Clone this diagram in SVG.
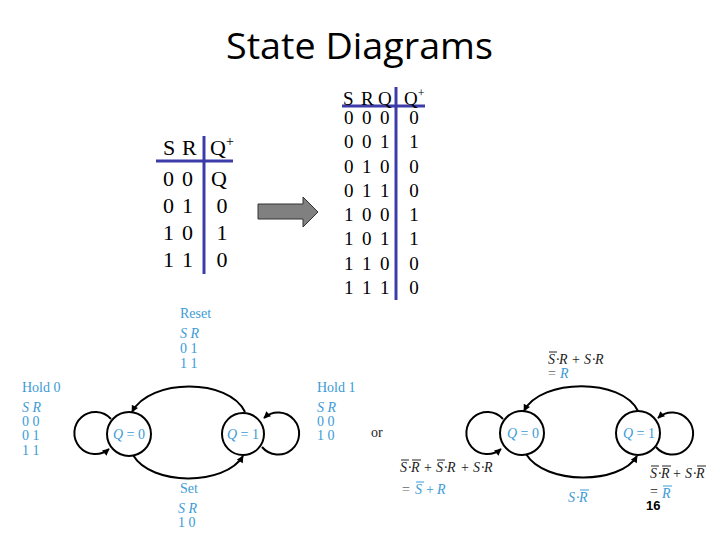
<svg xmlns="http://www.w3.org/2000/svg" width="720" height="540" viewBox="0 0 720 540">
<style>
.title{font-family:"Open Sans","Liberation Sans",sans-serif;font-size:36px;fill:#000}
.tb{font-family:"Liberation Serif",serif;fill:#000}
.t1{font-size:22px}
.t2{font-size:19px}
.rule{stroke:#3c3ca8;stroke-width:3}
.lb{font-family:"Liberation Serif",serif;font-size:14px;fill:#3d9bd6}
.bk{font-family:"Liberation Serif",serif;font-size:14px;fill:#222}
.it{font-style:italic}
.gy{fill:#666}
.st{fill:none;stroke:#000;stroke-width:2}
.bar{stroke:#222;stroke-width:1}
.barb{stroke:#3d9bd6;stroke-width:1}
</style>
<defs>
<marker id="ah" viewBox="0 0 10 10" refX="9" refY="5" markerWidth="8" markerHeight="7" markerUnits="userSpaceOnUse" orient="auto">
<path d="M0,0 L10,5 L0,10 z" fill="#000"/>
</marker>
</defs>
<rect width="720" height="540" fill="#fff"/>
<text id="title" class="title" x="226" y="59" textLength="267" lengthAdjust="spacingAndGlyphs">State Diagrams</text>

<g id="table1" class="tb t1">
<line class="rule" x1="156" y1="161" x2="233" y2="161"/>
<line class="rule" x1="204" y1="136" x2="204" y2="274"/>
<text x="163" y="155">S</text><text x="182" y="155">R</text>
<text x="210" y="155">Q<tspan font-size="14" dy="-9">+</tspan></text>
<text x="163" y="186">0</text><text x="182" y="186">0</text><text x="219" y="186" text-anchor="middle">Q</text>
<text x="163" y="213">0</text><text x="182" y="213">1</text><text x="222" y="213" text-anchor="middle">0</text>
<text x="163" y="240">1</text><text x="182" y="240">0</text><text x="222" y="240" text-anchor="middle">1</text>
<text x="163" y="267">1</text><text x="182" y="267">1</text><text x="222" y="267" text-anchor="middle">0</text>
</g>

<g id="arrow">
<polygon points="258,204 303,204 303,197 318,212 303,227 303,219 258,219" fill="#808080" stroke="#333" stroke-width="1"/>
</g>

<g id="table2" class="tb t2">
<line class="rule" x1="342" y1="106" x2="425" y2="106"/>
<line class="rule" x1="396" y1="87" x2="396" y2="300"/>
<text x="343" y="105">S</text><text x="361" y="105">R</text><text x="378" y="105">Q</text>
<text x="404" y="105">Q<tspan font-size="12" dy="-8">+</tspan></text>
<g text-anchor="start">
<text x="344" y="124">0</text><text x="362" y="124">0</text><text x="380" y="124">0</text>
<text x="344" y="148">0</text><text x="362" y="148">0</text><text x="380" y="148">1</text>
<text x="344" y="173">0</text><text x="362" y="173">1</text><text x="380" y="173">0</text>
<text x="344" y="197">0</text><text x="362" y="197">1</text><text x="380" y="197">1</text>
<text x="344" y="221">1</text><text x="362" y="221">0</text><text x="380" y="221">0</text>
<text x="344" y="245">1</text><text x="362" y="245">0</text><text x="380" y="245">1</text>
<text x="344" y="270">1</text><text x="362" y="270">1</text><text x="380" y="270">0</text>
<text x="344" y="294">1</text><text x="362" y="294">1</text><text x="380" y="294">1</text>
</g>
<g text-anchor="middle">
<text x="414" y="124">0</text><text x="414" y="148">1</text><text x="414" y="173">0</text><text x="414" y="197">0</text>
<text x="414" y="221">1</text><text x="414" y="245">1</text><text x="414" y="270">0</text><text x="414" y="294">0</text>
</g>
</g>

<g id="connectors">
<path class="st" d="M111,419 A21,21 0 1 0 109,449" marker-end="url(#ah)"/>
<path class="st" d="M262,447 A21,21 0 1 0 264,418" marker-end="url(#ah)"/>
<path class="st" d="M245,412 C229,378 150,378 132,412" marker-end="url(#ah)"/>
<path class="st" d="M133,455 C151,486 225,486 243,456" marker-end="url(#ah)"/>
<path class="st" d="M503,419 A21,21 0 1 0 501,449" marker-end="url(#ah)"/>
<path class="st" d="M656,447 A21,21 0 1 0 658,418" marker-end="url(#ah)"/>
<path class="st" d="M638,411 C622,378 541,378 524,411" marker-end="url(#ah)"/>
<path class="st" d="M526,454 C545,485 620,485 637,456" marker-end="url(#ah)"/>
</g>

<g id="L_q0"><circle class="st" cx="129" cy="434" r="22" fill="#fff"/><text class="lb" x="129" y="439" text-anchor="middle"><tspan class="it">Q</tspan> = 0</text></g>
<g id="L_q1"><circle class="st" cx="243" cy="434" r="21" fill="#fff"/><text class="lb" x="243" y="439" text-anchor="middle"><tspan class="it">Q</tspan> = 1</text></g>

<g id="L_labels" class="lb">
<text x="180" y="318">Reset</text>
<text x="180" y="338" class="it">S R</text>
<text x="180" y="353">0 1</text>
<text x="180" y="368">1 1</text>
<text x="22" y="392">Hold 0</text>
<text x="22" y="412" class="it">S R</text>
<text x="22" y="426">0 0</text>
<text x="22" y="440">0 1</text>
<text x="22" y="455">1 1</text>
<text x="317" y="392">Hold 1</text>
<text x="317" y="412" class="it">S R</text>
<text x="317" y="426">0 0</text>
<text x="317" y="440">1 0</text>
<text x="180" y="493">Set</text>
<text x="178" y="513" class="it">S R</text>
<text x="178" y="527">1 0</text>
</g>

<text class="bk" x="371" y="437" fill="#333">or</text>

<g id="R_q0"><circle class="st" cx="522" cy="433" r="22" fill="#fff"/><text class="lb" x="523" y="438" text-anchor="middle"><tspan class="it">Q</tspan> = 0</text></g>
<g id="R_q1"><circle class="st" cx="638" cy="433" r="22" fill="#fff"/><text class="lb" x="639" y="438" text-anchor="middle"><tspan class="it">Q</tspan> = 1</text></g>

<g id="R_labels">
<text class="bk" y="364"><tspan class="it" x="548">S</tspan><tspan x="555.5">·</tspan><tspan class="it" x="559">R</tspan><tspan x="572">+</tspan><tspan class="it" x="584">S</tspan><tspan x="591.5">·</tspan><tspan class="it" x="595">R</tspan></text>
<line class="bar" x1="549" y1="352" x2="557" y2="352"/>
<text class="bk gy" x="548" y="378">=</text><text class="lb it" x="560" y="378">R</text>

<text class="bk" y="472"><tspan class="it" x="400">S</tspan><tspan x="407.5">·</tspan><tspan class="it" x="411">R</tspan><tspan x="424">+</tspan><tspan class="it" x="436">S</tspan><tspan x="443.5">·</tspan><tspan class="it" x="447">R</tspan><tspan x="461">+</tspan><tspan class="it" x="473">S</tspan><tspan x="480.5">·</tspan><tspan class="it" x="484">R</tspan></text>
<line class="bar" x1="401" y1="460" x2="409" y2="460"/>
<line class="bar" x1="412" y1="460" x2="421" y2="460"/>
<line class="bar" x1="437" y1="460" x2="445" y2="460"/>
<text class="bk gy" x="402" y="494">=</text>
<text class="lb" y="494"><tspan class="it" x="415">S</tspan><tspan x="426">+</tspan><tspan class="it" x="437">R</tspan></text>
<line class="barb" x1="416" y1="482" x2="424" y2="482"/>

<text class="lb" y="502"><tspan class="it" x="568">S</tspan><tspan x="575.5">·</tspan><tspan class="it" x="579">R</tspan></text>
<line class="barb" x1="580" y1="490" x2="589" y2="490"/>

<text class="bk" y="478"><tspan class="it" x="650">S</tspan><tspan x="657.5">·</tspan><tspan class="it" x="661">R</tspan><tspan x="673">+</tspan><tspan class="it" x="685">S</tspan><tspan x="692.5">·</tspan><tspan class="it" x="696">R</tspan></text>
<line class="bar" x1="651" y1="466" x2="659" y2="466"/>
<line class="bar" x1="662" y1="466" x2="671" y2="466"/>
<line class="bar" x1="697" y1="466" x2="706" y2="466"/>
<text class="bk" x="650" y="496">=</text>
<text class="lb it" x="662" y="498">R</text>
<line class="barb" x1="663" y1="486" x2="672" y2="486"/>
</g>

<text id="pagenum" x="646" y="510" font-family="Liberation Sans, sans-serif" font-weight="bold" font-size="13" fill="#000">16</text>
</svg>
